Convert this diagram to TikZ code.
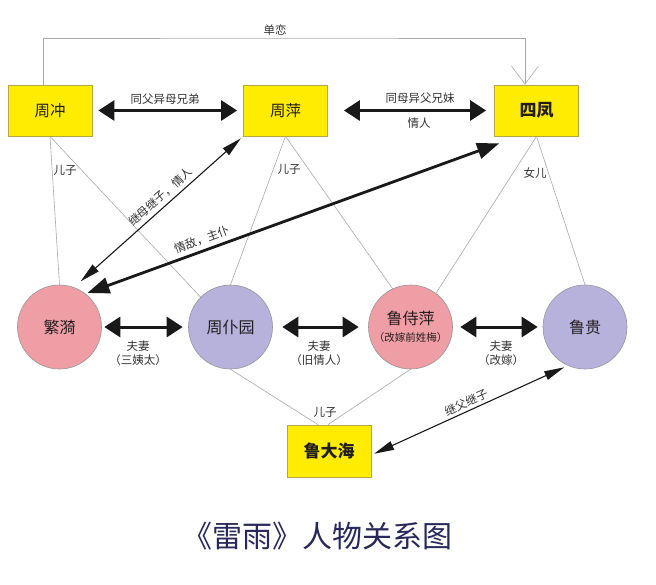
\documentclass[tikz,border=0pt]{standalone}
\usepackage{fontspec}
\newfontfamily\cjk{Noto Sans CJK SC}
\usetikzlibrary{arrows.meta,backgrounds}
\definecolor{boxyellow}{RGB}{255,236,0}
\definecolor{boxedge}{RGB}{185,165,70}
\definecolor{pinkc}{RGB}{240,158,166}
\definecolor{lavc}{RGB}{182,178,220}
\definecolor{circedge}{RGB}{150,150,150}
\definecolor{thinc}{RGB}{170,170,170}
\definecolor{arrc}{RGB}{25,25,25}
\definecolor{txt}{RGB}{35,30,30}
\definecolor{lbl}{RGB}{50,50,50}
\definecolor{titlec}{RGB}{40,40,90}
\begin{document}
\begin{tikzpicture}[x=1pt,y=-1pt,
  ybox/.style={draw=boxedge, fill=boxyellow, line width=0.8pt, minimum width=84pt, minimum height=51pt, inner sep=0pt, text=txt, font=\cjk\fontsize{15.5}{18}\selectfont},
  pcirc/.style={circle, draw=circedge, line width=0.6pt, fill=pinkc, minimum size=84pt, inner sep=0pt, text=txt, font=\cjk\fontsize{16}{18}\selectfont},
  lcirc/.style={pcirc, fill=lavc},
  lab/.style={font=\cjk\fontsize{11.5}{13}\selectfont, text=lbl, inner sep=1pt},
  thinline/.style={draw=thinc, line width=0.6pt},
  bigarrow/.style={draw=arrc, line width=3pt, {Triangle[length=16pt,width=20pt]}-{Triangle[length=16pt,width=20pt]}},
  midarrow/.style={draw=arrc, line width=2.8pt, {Triangle[length=22pt,width=16pt]}-{Triangle[length=22pt,width=16pt]}},
  slimarrow/.style={draw=arrc, line width=1.1pt, {Triangle[length=20pt,width=9pt]}-{Triangle[length=20pt,width=9pt]}}
]
\useasboundingbox (0,0) rectangle (656,584);

% nodes
\node[ybox] (zc) at (50,110.5) {周冲};
\node[ybox] (zp) at (285.5,110.5) {周萍};
\node[ybox, font=\cjk\bfseries\fontsize{17}{20}\selectfont] (sf) at (536.5,110.5) {四凤};
\node[ybox, minimum height=52pt, font=\cjk\bfseries\fontsize{17}{20}\selectfont] (ldh) at (329,451) {鲁大海};

\node[pcirc] (fy) at (59.5,327) {繁漪};
\node[lcirc] (zpy) at (230.5,327) {周仆园};
\node[pcirc, align=center] (lsp) at (410.5,327) {鲁侍萍\\[-1pt]{\fontsize{10.5}{12}\selectfont （改嫁前姓梅）}};
\node[lcirc] (lg) at (585,327) {鲁贵};

% parent-child thin lines behind the nodes
\begin{scope}[on background layer]
\fill[white] (0,0) rectangle (656,584);
\draw[thinline] (zc.south) -- (fy.north);
\draw[thinline] (zc.south) -- (zpy.135);
\draw[thinline] (zp.south) -- (zpy.north);
\draw[thinline] (zp.south) -- (lsp.115);
\draw[thinline] (sf.south) -- (lsp.53);
\draw[thinline] (sf.south) -- (lg.north);
\draw[thinline] (zpy.south) -- ([xshift=-11pt]ldh.north);
\draw[thinline] (lsp.south) -- ([xshift=-1pt]ldh.north);
\end{scope}

% 单恋
\coordinate (dl) at (275,38);
\draw[thinline, -{Straight Barb[length=18pt,width=27pt]}] ([xshift=-7pt]zc.north) |- (dl) -| ([xshift=-11.5pt]sf.north);
\node[lab] (dlt) at (275,30) {单恋};

% horizontal relations
\draw[bigarrow, shorten <=6pt, shorten >=6pt] (zc.east) -- (zp.west);
\node[lab] (l1) at (165,99) {同父异母兄弟};
\draw[bigarrow, shorten <=16pt, shorten >=8pt] (zp.east) -- (sf.west);
\node[lab] (l2) at (420,98) {同母异父兄妹};
\node[lab] (l3) at (419,123) {情人};

\draw[bigarrow, shorten <=2.5pt, shorten >=5.5pt] (fy.east) -- (zpy.west);
\node[lab, align=center] (l4) at (138,353) {夫妻\\[1pt]（三姨太）};
\draw[bigarrow, shorten <=9.5pt, shorten >=9.5pt] (zpy.east) -- (lsp.west);
\node[lab, align=center] (l5) at (319,353.5) {夫妻\\[1pt]（旧情人）};
\draw[bigarrow, shorten <=7.5pt, shorten >=5pt] (lsp.east) -- (lg.west);
\node[lab, align=center] (l6) at (501,353.5) {夫妻\\[1pt]（改嫁）};

% diagonal relations
\draw[slimarrow, shorten <=9pt, shorten >=3pt] (fy.70) -- node[lab, pos=0.55, sloped, above=3pt] (l7) {继母继子，情人} (zp.south west);
\draw[midarrow, shorten <=2pt] (fy.52) -- node[lab, pos=0.29, sloped, above=3pt] (l8) {情敌，主仆} ([xshift=5pt,yshift=-7pt]sf.south west);
\draw[slimarrow, shorten <=3pt, shorten >=4pt] ([yshift=-4pt]ldh.east) -- node[lab, pos=0.5, sloped, above=1.5pt] (l9) {继父继子} (lg.246);

% child labels
\node[lab] (c1) at (65,170) {儿子};
\node[lab] (c2) at (289,169) {儿子};
\node[lab] (c3) at (535,173) {女儿};
\node[lab] (c4) at (325,412) {儿子};

% title
\node[font=\cjk\fontsize{30}{34}\selectfont, text=titlec] (title) at (317.5,536) {《雷雨》人物关系图};
\end{tikzpicture}
\end{document}
